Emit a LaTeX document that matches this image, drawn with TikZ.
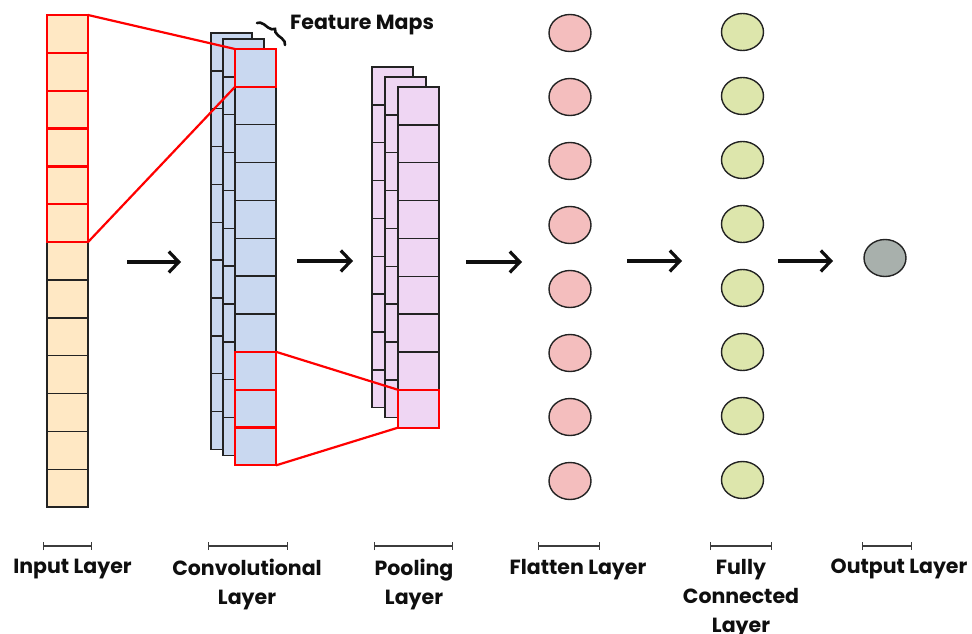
\documentclass[tikz,border=0pt]{standalone}
\usepackage{fontspec}
\setmainfont{Poppins}
\usetikzlibrary{shapes.geometric,arrows.meta,decorations.pathreplacing}

\definecolor{inputfill}{RGB}{255,232,196}
\definecolor{convfill}{RGB}{201,216,240}
\definecolor{poolfill}{RGB}{239,214,243}
\definecolor{flatfill}{RGB}{244,190,190}
\definecolor{fcfill}{RGB}{221,230,172}
\definecolor{outfill}{RGB}{168,176,172}
\definecolor{edge}{RGB}{35,35,35}
\definecolor{hlred}{RGB}{255,0,0}
\definecolor{inkgray}{RGB}{60,60,60}
\definecolor{ink}{RGB}{15,15,15}

\tikzset{
  cell/.style={draw=edge, line width=1.4pt, minimum width=41pt, minimum height=37.85pt,
               inner sep=0pt, outer sep=0pt, anchor=north west},
  hlbox/.style={draw=hlred, line width=2.2pt},
  hlline/.style={draw=hlred, line width=2.2pt},
  neuron/.style={ellipse, draw=edge, line width=1.4pt, minimum width=42pt, minimum height=37pt,
                 inner sep=0pt},
  flow/.style={draw=ink, line width=3.2pt, -{Straight Barb[length=10pt,width=21pt]}},
  scalebar/.style={draw=inkgray, line width=1.3pt, {Bar[width=8pt]}-{Bar[width=8pt]}},
  lbl/.style={font=\fontsize{20.5}{29}\selectfont\bfseries, text=ink, align=center,
              anchor=north, inner sep=0pt},
}

\begin{document}
\begin{tikzpicture}[x=1pt, y=-1pt]
\useasboundingbox (0,0) rectangle (972,634);

% ---- input column ----
\foreach \i in {1,...,13}
  \node[cell, fill=inputfill] (in\i) at (47, {15+(\i-1)*37.85}) {};
\foreach \i in {1,...,6}
  \draw[hlbox] (in\i.north west) rectangle (in\i.south east);

% ---- convolutional feature maps (back, middle, front) ----
\foreach \i in {1,...,11}
  \node[cell, fill=convfill] (cb\i) at (211, {33+(\i-1)*37.85}) {};
\foreach \i in {1,...,11}
  \node[cell, fill=convfill] (cm\i) at (223, {39+(\i-1)*37.85}) {};
\foreach \i in {1,...,11}
  \node[cell, fill=convfill] (cf\i) at (235, {49+(\i-1)*37.85}) {};
\foreach \i in {1,9,10,11}
  \draw[hlbox] (cf\i.north west) rectangle (cf\i.south east);

% ---- pooling maps ----
\foreach \i in {1,...,9}
  \node[cell, fill=poolfill] (pb\i) at (372, {67+(\i-1)*37.85}) {};
\foreach \i in {1,...,9}
  \node[cell, fill=poolfill] (pm\i) at (385, {77+(\i-1)*37.85}) {};
\foreach \i in {1,...,9}
  \node[cell, fill=poolfill] (pf\i) at (398, {87+(\i-1)*37.85}) {};
\draw[hlbox] (pf9.north west) rectangle (pf9.south east);

% ---- receptive field connectors ----
\draw[hlline] (in1.north east) -- (cf1.north west);
\draw[hlline] (in6.south east) -- (cf1.south west);
\draw[hlline] (cf9.north east) -- (pf9.north west);
\draw[hlline] (cf11.south east) -- (pf9.south west);

% ---- feature maps annotation ----
\coordinate (brA) at (257,23);
\coordinate (brB) at (285,45);
\draw[ink, line width=2.6pt, line cap=round, decorate,
      decoration={brace, amplitude=6.5pt}] (brA) -- (brB);
\node[font=\fontsize{20.5}{24}\selectfont\bfseries, text=ink, anchor=west, inner sep=0pt]
  (fm) at (290,25) {Feature Maps};

% ---- flatten, dense and output neurons ----
\foreach \i in {1,...,8}
  \node[neuron, fill=flatfill] (fl\i) at (570, {33+(\i-1)*64}) {};
\foreach \i in {1,...,8}
  \node[neuron, fill=fcfill] (fc\i) at (742.5, {32+(\i-1)*64}) {};
\node[neuron, fill=outfill] (out) at (885,258) {};

% ---- stage arrows ----
\coordinate (a1s) at (127,262); \coordinate (a1e) at (181,262);
\coordinate (a2s) at (297,261); \coordinate (a2e) at (353,261);
\coordinate (a3s) at (466,262); \coordinate (a3e) at (522,262);
\coordinate (a4s) at (627,261); \coordinate (a4e) at (682,261);
\coordinate (a5s) at (778,261); \coordinate (a5e) at (833,261);
\draw[flow] (a1s) -- (a1e);
\draw[flow] (a2s) -- (a2e);
\draw[flow] (a3s) -- (a3e);
\draw[flow] (a4s) -- (a4e);
\draw[flow] (a5s) -- (a5e);

% ---- scale bars ----
\coordinate (s1l) at (43,546);  \coordinate (s1r) at (92,546);
\coordinate (s2l) at (208,546); \coordinate (s2r) at (288,546);
\coordinate (s3l) at (374,546); \coordinate (s3r) at (453,546);
\coordinate (s4l) at (538,546); \coordinate (s4r) at (600,546);
\coordinate (s5l) at (710,546); \coordinate (s5r) at (772,546);
\coordinate (s6l) at (862,546); \coordinate (s6r) at (912,546);
\draw[scalebar] (s1l) -- (s1r);
\draw[scalebar] (s2l) -- (s2r);
\draw[scalebar] (s3l) -- (s3r);
\draw[scalebar] (s4l) -- (s4r);
\draw[scalebar] (s5l) -- (s5r);
\draw[scalebar] (s6l) -- (s6r);

% ---- layer labels ----
\node[lbl] (l1) at (72.5,559) {Input Layer};
\node[lbl] (l2) at (247,559) {Convolutional\\Layer};
\node[lbl] (l3) at (414,559) {Pooling\\Layer};
\node[lbl] (l4) at (578,559) {Flatten Layer};
\node[lbl] (l5) at (741,559) {Fully\\Connected\\Layer};
\node[lbl] (l6) at (899,559) {Output Layer};
\end{tikzpicture}
\end{document}
